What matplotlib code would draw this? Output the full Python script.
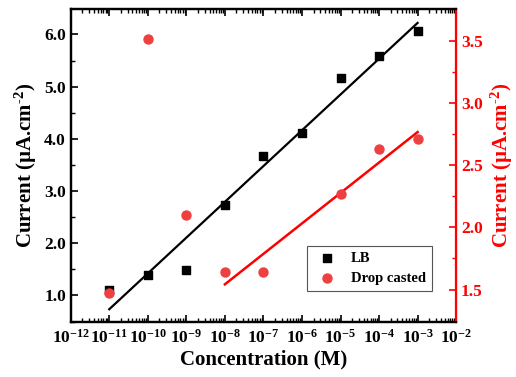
import numpy as np
import matplotlib
matplotlib.use('Agg')
import matplotlib.pyplot as plt
from matplotlib.ticker import LogLocator, MultipleLocator, NullFormatter, FormatStrFormatter

plt.rcParams['font.family'] = ['Liberation Serif', 'DejaVu Serif']
plt.rcParams['font.weight'] = 'bold'
plt.rcParams['mathtext.fontset'] = 'custom'
plt.rcParams['mathtext.rm'] = 'Liberation Serif:bold'
plt.rcParams['mathtext.it'] = 'Liberation Serif:bold'
plt.rcParams['mathtext.bf'] = 'Liberation Serif:bold'

# LB films (left axis)
lb_conc = [1e-11, 1e-10, 1e-9, 1e-8, 1e-7, 1e-6, 1e-5, 1e-4, 1e-3]
lb_current = [1.10, 1.40, 1.48, 2.74, 3.67, 4.11, 5.16, 5.59, 6.06]

# drop casted films (right axis)
dc_conc = [1e-11, 1e-10, 1e-9, 1e-8, 1e-7, 1e-5, 1e-4, 1e-3]
dc_current = [1.47, 3.51, 2.10, 1.64, 1.64, 2.27, 2.63, 2.71]
dc_fit_start = 1e-8  # linear range used for the fit

fig, ax = plt.subplots(figsize=(5.16, 3.77), dpi=100)
fig.subplots_adjust(left=0.137, right=0.884, top=0.975, bottom=0.147)
ax2 = ax.twinx()

# linear fits on log scale
lx = np.log10(lb_conc)
p = np.polyfit(lx, lb_current, 1)
ax.plot(lb_conc, np.polyval(p, lx), color='black', lw=1.6, zorder=2)
ax.scatter(lb_conc, lb_current, marker='s', s=38, color='black', zorder=3, label='LB')

dc_x = np.log10(dc_conc)
mask = dc_x >= np.log10(dc_fit_start)
p2 = np.polyfit(dc_x[mask], np.array(dc_current)[mask], 1)
fx = np.array([dc_x[mask][0], dc_x[mask][-1]])
ax2.plot(10 ** fx, np.polyval(p2, fx), color='red', lw=1.8, zorder=2)
ax2.scatter(dc_conc, dc_current, marker='o', s=42, color='#ee4040', zorder=3,
            label='Drop casted')

ax.set_xscale('log')
ax.set_xlim(1e-12, 1e-2)
ax.set_ylim(0.5, 6.48)
ax2.set_ylim(1.243, 3.75)

ax.xaxis.set_major_locator(LogLocator(base=10, numticks=20))
ax.xaxis.set_minor_locator(LogLocator(base=10, subs=np.arange(2, 10), numticks=20))
ax.xaxis.set_minor_formatter(NullFormatter())
ax.yaxis.set_major_locator(MultipleLocator(1.0))
ax.yaxis.set_minor_locator(MultipleLocator(0.5))
ax.yaxis.set_major_formatter(FormatStrFormatter('%.1f'))
ax2.yaxis.set_major_locator(MultipleLocator(0.5))
ax2.yaxis.set_minor_locator(MultipleLocator(0.25))
ax2.yaxis.set_major_formatter(FormatStrFormatter('%.1f'))

ax.tick_params(which='both', direction='in', top=True, right=False, labelsize=12.5)
ax.tick_params(which='major', length=5, width=1.2)
ax.tick_params(which='minor', length=3, width=1)
ax.tick_params(axis='x', pad=5)
ax2.tick_params(which='both', direction='in', colors='red', labelsize=12.5)
ax2.tick_params(which='major', length=5, width=1.2)
ax2.tick_params(which='minor', length=3, width=1)

for s in ['left', 'bottom', 'top']:
    ax.spines[s].set_linewidth(1.6)
for s in ['left', 'bottom', 'top', 'right']:
    ax2.spines[s].set_linewidth(1.6)
ax2.spines['right'].set_color('red')

ylab = 'Current (µA.cm$^{\\text{-2}}$)'
ax.set_xlabel('Concentration (M)', fontsize=15, fontweight='bold', labelpad=2)
ax.set_ylabel(ylab, fontsize=15, fontweight='bold', labelpad=4)
ax2.set_ylabel(ylab, fontsize=15, fontweight='bold', color='red', labelpad=4)

h1, l1 = ax.get_legend_handles_labels()
h2, l2 = ax2.get_legend_handles_labels()
leg = ax2.legend(h1 + h2, l1 + l2, loc='lower right', bbox_to_anchor=(0.955, 0.075),
                 fontsize=10.5, fancybox=False, edgecolor='#555555', framealpha=1,
                 handletextpad=0.6, borderpad=0.4, labelspacing=0.5)
leg.get_frame().set_linewidth(0.8)

plt.savefig('out.png', dpi=100)
